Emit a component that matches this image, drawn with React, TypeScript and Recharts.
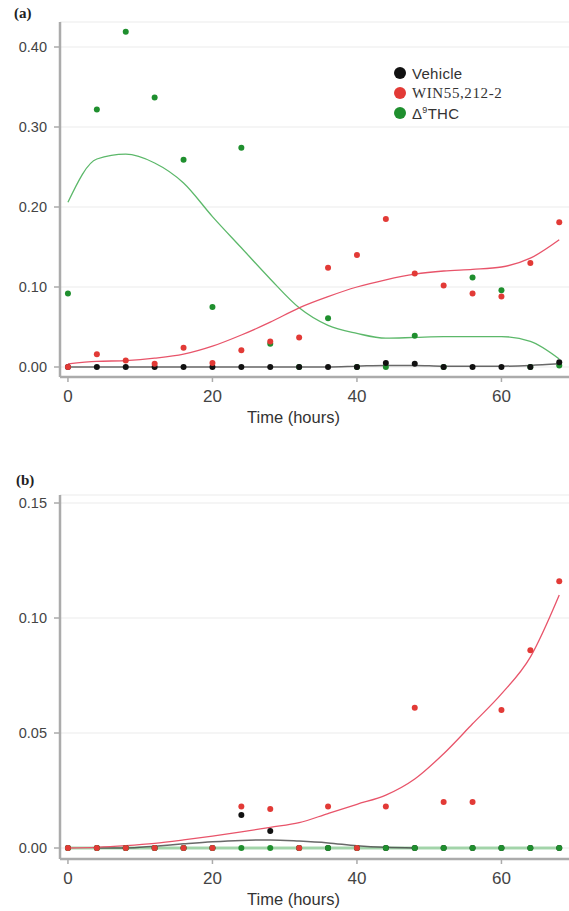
import React from 'react';
import { ComposedChart, Line, Scatter, XAxis, YAxis, CartesianGrid } from 'recharts';

// Time points (hours)
const times = [0, 4, 8, 12, 16, 20, 24, 28, 32, 36, 40, 44, 48, 52, 56, 60, 64, 68];

// Panel (a) observed values
const vehicleA = [0, 0, 0, 0, 0, 0, 0, 0, 0, 0, 0, 0.005, 0.004, 0, 0, 0, 0, 0.006];
const winA = [0, 0.016, 0.008, 0.004, 0.024, 0.005, 0.021, 0.032, 0.037, 0.124, 0.14, 0.185, 0.117, 0.102, 0.092, 0.088, 0.13, 0.181];
const thcA = [0.092, 0.322, 0.419, 0.337, 0.259, 0.075, 0.274, 0.029, 0, 0.061, 0, 0, 0.039, 0, 0.112, 0.096, 0, 0.002];
// Panel (a) smoothed fits
const vehicleFitA = [0, 0, 0, 0, 0, 0, 0, 0, 0, 0, 0.001, 0.002, 0.002, 0.001, 0.001, 0.001, 0.002, 0.004];
const winFitA = [0.004, 0.007, 0.008, 0.011, 0.016, 0.026, 0.04, 0.056, 0.074, 0.088, 0.1, 0.109, 0.116, 0.12, 0.122, 0.125, 0.136, 0.159];
const thcFitA = [0.206, 0.26, 0.266, 0.255, 0.23, 0.188, 0.149, 0.11, 0.074, 0.052, 0.042, 0.036, 0.037, 0.038, 0.038, 0.038, 0.032, 0.01];

// Panel (b) observed values
const vehicleB = [0, 0, 0, 0, 0, 0, 0.0143, 0.0074, 0, 0, 0, 0, 0, 0, 0, 0, 0, 0];
const winB = [0, 0, 0, 0, 0, 0, 0.018, 0.017, 0, 0.018, 0, 0.018, 0.061, 0.02, 0.02, 0.06, 0.086, 0.116];
const thcB = [0, 0, 0, 0, 0, 0, 0, 0, 0, 0, 0, 0, 0, 0, 0, 0, 0, 0];
// Panel (b) smoothed fits
const vehicleFitB = [null, 0, 0, 0.0008, 0.0018, 0.0027, 0.0033, 0.0035, 0.003, 0.0022, 0.001, 0.0003, 0, null, null, null, null, null];
const winFitB = [0, 0.0003, 0.001, 0.002, 0.0035, 0.0052, 0.007, 0.009, 0.011, 0.015, 0.019, 0.023, 0.03, 0.041, 0.054, 0.067, 0.083, 0.11];
const thcFitB = [0, 0, 0, 0, 0, 0, 0, 0, 0, 0, 0, 0, 0, 0, 0, 0, 0, 0];

const ticksA = [0, 0.1, 0.2, 0.3, 0.4];
const ticksB = [0, 0.05, 0.1, 0.15];
const xTicks = [0, 20, 40, 60];

const legendItems = ['Vehicle', 'WIN55,212-2', 'THC'];

const C_BLACK = '#111111';
const C_RED = '#e23a36';
const C_GREEN = '#1f8f2e';
const L_BLACK = '#444444';
const L_RED = '#e8546a';
const L_GREEN = '#5cb86a';

function rows(v: number[], w: number[], t: number[], vf: (number | null)[], wf: number[], tf: number[]) {
  return times.map((tt, i) => ({ t: tt, vehicle: v[i], win: w[i], thc: t[i], vehicleFit: vf[i], winFit: wf[i], thcFit: tf[i] }));
}

const dataA = rows(vehicleA, winA, thcA, vehicleFitA, winFitA, thcFitA);
const dataB = rows(vehicleB, winB, thcB, vehicleFitB, winFitB, thcFitB);

const dot = (color: string) => (p: any) => <circle cx={p.cx} cy={p.cy} r={3} fill={color} />;

const sans = 'Liberation Sans, Arial, sans-serif';
const axisStroke = '#ababab';

function TitleLabel(props: any) {
  const vb = props.viewBox || {};
  return (
    <text x={vb.x + vb.width / 2 - 21} y={vb.y + 46} textAnchor="middle" fontFamily={sans} fontSize={16.5} fill="#333">
      Time (hours)
    </text>
  );
}

function Panel({ data, height, top, domain, ticks, xAxisH, order }: any) {
  const series: Record<string, React.ReactNode> = {
    thc: <Scatter key="thc" dataKey="thc" isAnimationActive={false} shape={dot(C_GREEN)} />,
    vehicle: <Scatter key="vehicle" dataKey="vehicle" isAnimationActive={false} shape={dot(C_BLACK)} />,
    win: <Scatter key="win" dataKey="win" isAnimationActive={false} shape={dot(C_RED)} />,
  };
  return (
    <ComposedChart width={569} height={height} data={data} margin={{ top, right: 0, bottom: 0, left: 0 }}>
      <CartesianGrid vertical={false} stroke="#ececec" strokeWidth={1.2} />
      <XAxis
        type="number"
        dataKey="t"
        domain={[-1.1, 69.35]}
        ticks={xTicks}
        allowDataOverflow
        height={xAxisH}
        axisLine={{ stroke: axisStroke, strokeWidth: 2.5 }}
        tickLine={{ stroke: axisStroke, strokeWidth: 1.5 }}
        tickSize={5}
        tickMargin={8}
        tick={{ fill: '#444', fontSize: 17, fontFamily: sans }}
        label={{ content: <TitleLabel /> }}
      />
      <YAxis
        type="number"
        domain={domain}
        ticks={ticks}
        allowDataOverflow
        width={60}
        axisLine={{ stroke: axisStroke, strokeWidth: 2.5 }}
        tickLine={{ stroke: axisStroke, strokeWidth: 1.5 }}
        tickSize={6}
        tickMargin={7}
        tickFormatter={(v: number) => v.toFixed(2)}
        tick={{ fill: '#444', fontSize: 14.5, fontFamily: sans }}
      />
      <Line dataKey="thcFit" type="monotone" stroke={L_GREEN} strokeWidth={order === 'b' ? 3 : 1.3} strokeOpacity={order === 'b' ? 0.55 : 1} dot={false} isAnimationActive={false} />
      <Line dataKey="vehicleFit" type="monotone" stroke={L_BLACK} strokeWidth={1.5} strokeOpacity={0.8} dot={false} isAnimationActive={false} />
      <Line dataKey="winFit" type="monotone" stroke={L_RED} strokeWidth={1.3} dot={false} isAnimationActive={false} />
      {order === 'a' ? [series.thc, series.vehicle, series.win] : [series.vehicle, series.thc, series.win]}
    </ComposedChart>
  );
}

export default function App() {
  const legendColors = [C_BLACK, C_RED, C_GREEN];
  return (
    <div style={{ position: 'absolute', left: 0, top: 0, width: 569, height: 911, background: '#fff', overflow: 'hidden' }}>
      <div style={{ position: 'absolute', left: 0, top: 0 }}>
        <Panel data={dataA} height={440} top={22} domain={[-0.0125, 0.43125]} ticks={ticksA} xAxisH={63} order="a" />
      </div>
      <div style={{ position: 'absolute', left: 0, top: 450 }}>
        <Panel data={dataB} height={461} top={45} domain={[-0.00478, 0.15348]} ticks={ticksB} xAxisH={52} order="b" />
      </div>
      <div style={{ position: 'absolute', left: 14, top: 5, fontFamily: 'Liberation Serif, serif', fontWeight: 'bold', fontSize: 15, color: '#222' }}>(a)</div>
      <div style={{ position: 'absolute', left: 16, top: 472, fontFamily: 'Liberation Serif, serif', fontWeight: 'bold', fontSize: 15, color: '#222' }}>(b)</div>
      <div style={{ position: 'absolute', left: 394, top: 63 }}>
        {legendItems.map((name, i) => (
          <div key={name} style={{ display: 'flex', alignItems: 'center', height: 20 }}>
            <span style={{ display: 'inline-block', width: 12, height: 12, borderRadius: 6, background: legendColors[i], marginRight: 6 }} />
            <span style={{ fontFamily: i === 1 ? 'Liberation Serif, serif' : sans, fontSize: 15, color: '#333', letterSpacing: i === 1 ? 0.6 : 0.3 }}>
              {i === 2 ? (<>Δ<sup style={{ fontSize: 9 }}>9</sup>{name}</>) : name}
            </span>
          </div>
        ))}
      </div>
    </div>
  );
}
